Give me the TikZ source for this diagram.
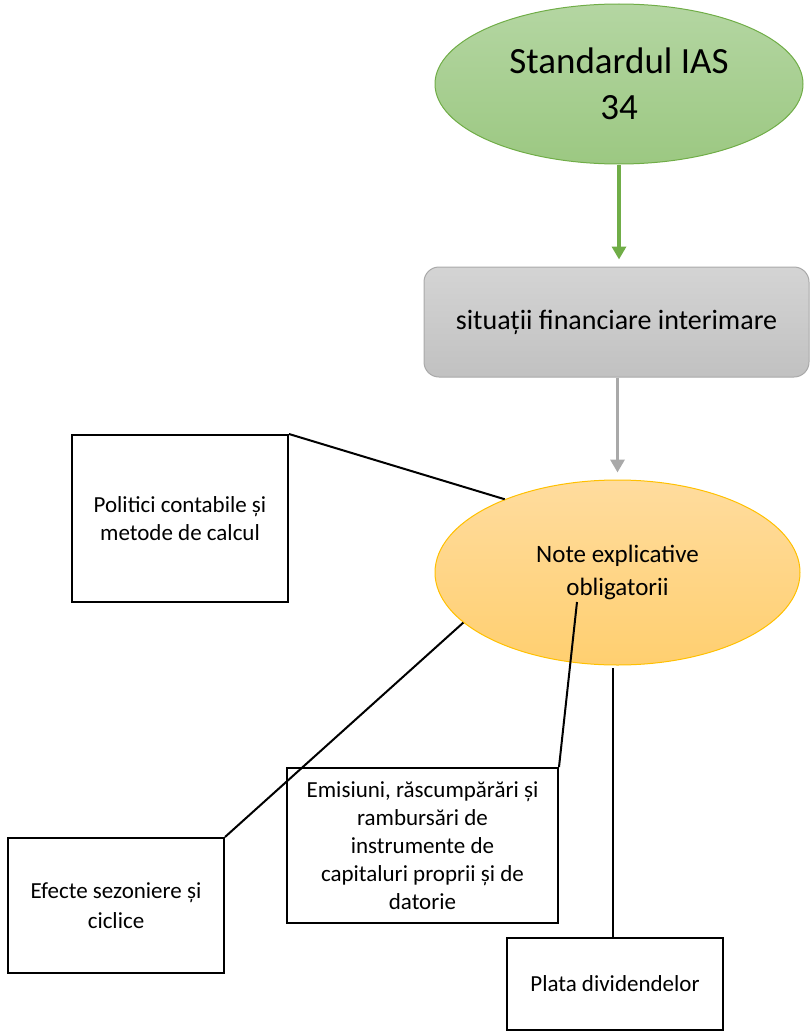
\documentclass[tikz,border=0pt]{standalone}
\usepackage{fontspec}
\setmainfont{Carlito}
\usetikzlibrary{shapes.geometric,arrows.meta}
\definecolor{grnline}{HTML}{70AD47}
\definecolor{grntop}{HTML}{B4D6A2}
\definecolor{grnbot}{HTML}{9CC882}
\definecolor{gryline}{HTML}{A9A9A9}
\definecolor{grytop}{HTML}{D4D4D4}
\definecolor{grybot}{HTML}{C1C1C1}
\definecolor{orgline}{HTML}{FFC000}
\definecolor{orgtop}{HTML}{FFDC9E}
\definecolor{orgbot}{HTML}{FFCF70}
\begin{document}
\begin{tikzpicture}[x=1pt,y=-1pt,
  txtbox/.style={draw=black, line width=2pt, fill=white, align=center, inner sep=0pt,
    font=\fontsize{23}{28}\selectfont},
  link/.style={draw=black, line width=2pt},
  flow/.style={line width=3.5pt, -{Triangle[width=14pt,length=13pt]}, shorten >=7pt}]
\useasboundingbox (0,0) rectangle (810,1033);
\node[ellipse, minimum width=368pt, minimum height=160pt, inner sep=0pt, draw=grnline, line width=1pt,
  top color=grntop, bottom color=grnbot, align=center,
  font=\fontsize{37}{46}\selectfont] (ias) at (619,84) {Standardul IAS\\34};
\node[rectangle, rounded corners=15pt, minimum width=385pt, minimum height=110pt, inner sep=0pt,
  draw=gryline, line width=1pt, top color=grytop, bottom color=grybot,
  font=\fontsize{28}{34}\selectfont] (sit) at (616.5,322) {situații financiare interimare};
\node[ellipse, minimum width=365pt, minimum height=185pt, inner sep=0pt, draw=orgline, line width=1pt,
  top color=orgtop, bottom color=orgbot, align=center,
  font=\fontsize{25}{33}\selectfont] (note) at (617.5,572.5) {Note explicative\\obligatorii};
\node[txtbox, minimum width=216pt, minimum height=167pt] (pol) at (180,518.5) {Politici contabile și\\metode de calcul};
\node[txtbox, minimum width=216pt, minimum height=135pt, font=\fontsize{23}{30}\selectfont] (efe) at (116,905.5) {Efecte sezoniere și\\ciclice};
\node[txtbox, minimum width=271pt, minimum height=155pt] (emi) at (422.5,845.5) {Emisiuni, răscumpărări și\\rambursări de\\instrumente de\\capitaluri proprii și de\\datorie};
\node[txtbox, minimum width=216pt, minimum height=92pt] (pla) at (615,984) {Plata dividendelor};
\coordinate (cE) at (577,602);
\coordinate (cP) at (612.5,668);
\draw[flow, grnline] (ias.south) -- (ias.south |- sit.north);
\draw[flow, gryline] (note.north |- sit.south) -- (note.north);
\draw[link] (pol.north east) -- (note.147);
\draw[link] (efe.north east) -- (note.198.8);
\draw[link] (emi.north east) -- (cE);
\draw[link] (cP) -- (cP |- pla.north);
\end{tikzpicture}
\end{document}
